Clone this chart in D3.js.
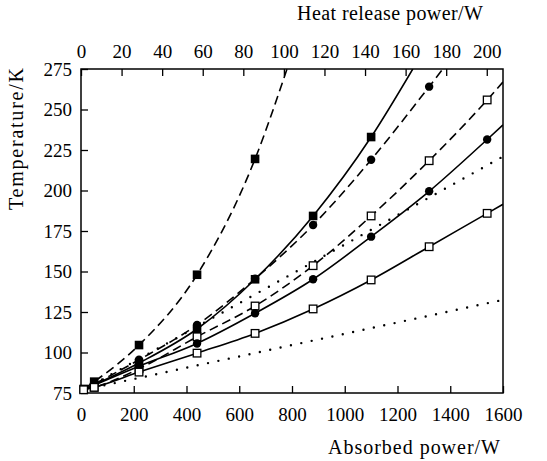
<!DOCTYPE html>
<html>
<head>
<meta charset="utf-8">
<script src="https://cdn.jsdelivr.net/npm/d3@7"></script>
<style>
  html, body { margin: 0; padding: 0; background: #fff; }
  svg text { font-family: "Liberation Serif", "Times New Roman", serif; fill: #000; }
</style>
</head>
<body>
<svg id="chart" width="547" height="461"></svg>
<script>
// ---------- data ----------
const absorbedTicks = [0, 200, 400, 600, 800, 1000, 1200, 1400, 1600];
const heatTicks = [0, 20, 40, 60, 80, 100, 120, 140, 160, 180, 200];
const tempTicks = [75, 100, 125, 150, 175, 200, 225, 250, 275];

const lineStart = [10, 77];

// [absorbed power W, temperature K]
const s1Markers = [[10, 77.5], [50, 82], [220, 104.6], [440, 148], [660, 219.5]];
const s1End = [781, 275];
const s2Markers = [[220, 93.5], [440, 114.5], [660, 145.2], [880, 184.3], [1100, 233]];
const s2End = [1258, 275];
const s3Markers = [[220, 95.5], [440, 117], [660, 145.5], [880, 178.7], [1100, 219], [1320, 264.1]];
const s3End = [1372, 275];
const s4Markers = [[50, 78.5], [220, 90], [440, 109.7], [660, 128.7], [880, 153.6], [1100, 184.3], [1320, 218.4], [1540, 255.9]];
const s4End = [1600, 267];
const s5Markers = [[220, 91.5], [440, 105.6], [660, 124.2], [880, 145.2], [1100, 171.5], [1320, 199.5], [1540, 231.5]];
const s5End = [1600, 240.5];
const s6Markers = [[10, 77], [50, 78.5], [220, 87.9], [440, 99.6], [660, 111.8], [880, 126.9], [1100, 144.8], [1320, 165.3], [1540, 185.9]];
const s6End = [1600, 191.5];
const dottedUpper = [[10, 77], [1600, 221]];
const dottedLower = [[10, 77], [1600, 132.5]];

// ---------- layout ----------
const svg = d3.select("#chart");
const L = 81, R = 503, T = 69, B = 393;
const x = d3.scaleLinear().domain([0, 1600]).range([L, R]);
const xTop = d3.scaleLinear().domain([0, 208]).range([L, R]);
const y = d3.scaleLinear().domain([75, 275]).range([B, T]);

svg.append("defs").append("clipPath").attr("id", "clip")
  .append("rect").attr("x", L).attr("y", T).attr("width", R - L).attr("height", B - T);

const FS = 19;

// axes
const gB = svg.append("g").attr("transform", `translate(0,${B})`)
  .call(d3.axisBottom(x).tickValues(absorbedTicks).tickFormat(d3.format("d"))
    .tickSizeInner(-7).tickSizeOuter(0).tickPadding(14.5));
const gT = svg.append("g").attr("transform", `translate(0,${T})`)
  .call(d3.axisTop(xTop).tickValues(heatTicks).tickFormat(d3.format("d"))
    .tickSizeInner(-7).tickSizeOuter(0).tickPadding(11));
const gL = svg.append("g").attr("transform", `translate(${L},0)`)
  .call(d3.axisLeft(y).tickValues(tempTicks).tickFormat(d3.format("d"))
    .tickSizeInner(-7).tickSizeOuter(0).tickPadding(9));
[gB, gT, gL].forEach(g => {
  g.select(".domain").remove();
  g.selectAll(".tick line").attr("stroke", "#000").attr("stroke-width", 1.3);
  g.selectAll(".tick text").attr("font-size", FS).attr("fill", "#000")
    .style("font-family", '"Liberation Serif", "Times New Roman", serif');
});

// frame
svg.append("rect").attr("x", L).attr("y", T).attr("width", R - L).attr("height", B - T)
  .attr("fill", "none").attr("stroke", "#000").attr("stroke-width", 1.5);

// titles
svg.append("text").attr("x", 483).attr("y", 20).attr("text-anchor", "end")
  .attr("font-size", 20).attr("textLength", 186).attr("lengthAdjust", "spacing")
  .text("Heat release power/W");
svg.append("text").attr("x", 500).attr("y", 454).attr("text-anchor", "end")
  .attr("font-size", 20).attr("textLength", 172).attr("lengthAdjust", "spacing")
  .text("Absorbed power/W");
svg.append("text").attr("transform", "translate(23,139) rotate(-90)")
  .attr("text-anchor", "middle").attr("font-size", 20)
  .attr("textLength", 142).attr("lengthAdjust", "spacing")
  .text("Temperature/K");

// lines
const plot = svg.append("g").attr("clip-path", "url(#clip)");
const lineGen = d3.line().x(d => x(d[0])).y(d => y(d[1])).curve(d3.curveMonotoneX);

const series = [
  { m: s1Markers, end: s1End, start: null, dash: "9,5", shape: "fsq" },
  { m: s2Markers, end: s2End, start: lineStart, dash: null, shape: "fsq" },
  { m: s3Markers, end: s3End, start: lineStart, dash: "9,5", shape: "fci" },
  { m: s4Markers, end: s4End, start: lineStart, dash: "9,5", shape: "osq" },
  { m: s5Markers, end: s5End, start: lineStart, dash: null, shape: "fci" },
  { m: s6Markers, end: s6End, start: null, dash: null, shape: "osq" }
];

series.forEach(s => {
  const pts = (s.start ? [s.start] : []).concat(s.m, [s.end]);
  plot.append("path").datum(pts).attr("d", lineGen)
    .attr("fill", "none").attr("stroke", "#000").attr("stroke-width", 1.6)
    .attr("stroke-dasharray", s.dash);
});

[dottedUpper, dottedLower].forEach(d => {
  plot.append("path").datum(d).attr("d", lineGen)
    .attr("fill", "none").attr("stroke", "#000").attr("stroke-width", 2.4)
    .attr("stroke-linecap", "round").attr("stroke-dasharray", "0,10.6");
});

// markers
const mk = svg.append("g");
series.forEach(s => {
  s.m.forEach(p => {
    const cx = x(p[0]), cy = y(p[1]);
    if (s.shape === "fci") {
      mk.append("circle").attr("cx", cx).attr("cy", cy).attr("r", 4.2).attr("fill", "#000");
    } else if (s.shape === "fsq") {
      mk.append("rect").attr("x", cx - 4.3).attr("y", cy - 4.3).attr("width", 8.6).attr("height", 8.6).attr("fill", "#000");
    } else {
      mk.append("rect").attr("x", cx - 3.8).attr("y", cy - 3.8).attr("width", 7.6).attr("height", 7.6)
        .attr("fill", "#fff").attr("stroke", "#000").attr("stroke-width", 1.3);
    }
  });
});
</script>
</body>
</html>
